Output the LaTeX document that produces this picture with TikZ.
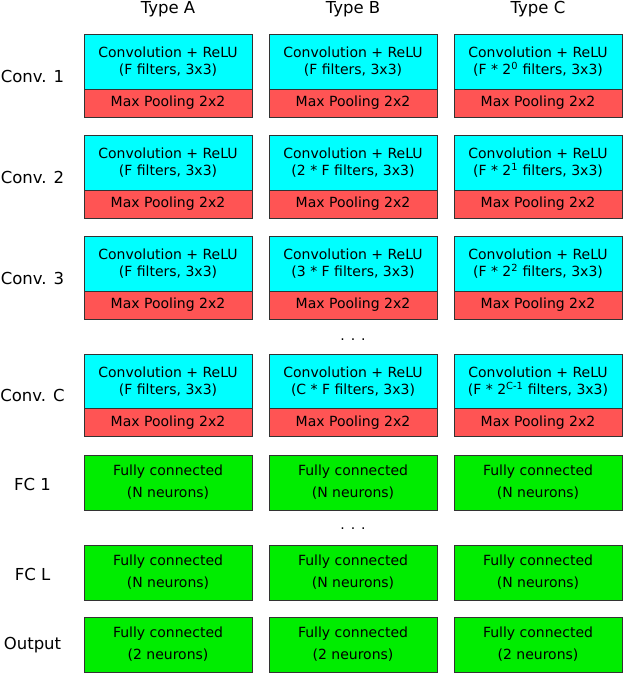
\documentclass[tikz,border=0pt]{standalone}
\usepackage{fontspec}
\setmainfont{DejaVu Sans}
\begin{document}
\begin{tikzpicture}[x=1pt,y=-1pt,
  boxbase/.style={draw=black!80,line width=0.9pt,minimum width=168pt,inner sep=0pt,outer sep=0pt,align=center,font=\fontsize{14}{17.3}\selectfont},
  convbox/.style={boxbase,fill=cyan,minimum height=55pt},
  poolbox/.style={boxbase,fill=red!67!white,minimum height=28pt},
  fcbox/.style={boxbase,fill=green!93!black,minimum height=55pt,font=\fontsize{14}{22}\selectfont},
  collabel/.style={font=\fontsize{16.5}{19}\selectfont},
  rowlabel/.style={font=\fontsize{16.5}{19}\selectfont},
  dotslabel/.style={font=\fontsize{14}{16}\selectfont}]
\useasboundingbox (0,0) rectangle (623,673);
\definecolor{cyan}{HTML}{00FFFF}
\definecolor{red}{HTML}{FF0000}
% column headers
\node[collabel] (tA) at (168,9) {Type A};
\node[collabel] (tB) at (353,9) {Type B};
\node[collabel] (tC) at (538,9) {Type C};
% row labels
\node[rowlabel] (r1) at (32.5,76) {Conv. 1};
\node[rowlabel] (r2) at (32.5,177) {Conv. 2};
\node[rowlabel] (r3) at (32.5,278) {Conv. 3};
\node[rowlabel] (rC) at (32.5,395.5) {Conv. C};
\node[rowlabel] (rF1) at (32.5,484.5) {FC 1};
\node[rowlabel] (rFL) at (32.5,574.5) {FC L};
\node[rowlabel] (rO) at (32.5,645.5) {Output};
% Conv 1
\node[convbox] (a1) at (168,61.5) {Convolution + ReLU\\(F filters, 3x3)};
\node[poolbox] (pa1) at (168,103) {Max Pooling 2x2};
\node[convbox] (b1) at (353,61.5) {Convolution + ReLU\\(F filters, 3x3)};
\node[poolbox] (pb1) at (353,103) {Max Pooling 2x2};
\node[convbox] (c1) at (538,61.5) {Convolution + ReLU\\(F * 2\textsuperscript{0} filters, 3x3)};
\node[poolbox] (pc1) at (538,103) {Max Pooling 2x2};
% Conv 2
\node[convbox] (a2) at (168,162.5) {Convolution + ReLU\\(F filters, 3x3)};
\node[poolbox] (pa2) at (168,204) {Max Pooling 2x2};
\node[convbox] (b2) at (353,162.5) {Convolution + ReLU\\(2 * F filters, 3x3)};
\node[poolbox] (pb2) at (353,204) {Max Pooling 2x2};
\node[convbox] (c2) at (538,162.5) {Convolution + ReLU\\(F * 2\textsuperscript{1} filters, 3x3)};
\node[poolbox] (pc2) at (538,204) {Max Pooling 2x2};
% Conv 3
\node[convbox] (a3) at (168,263.5) {Convolution + ReLU\\(F filters, 3x3)};
\node[poolbox] (pa3) at (168,305) {Max Pooling 2x2};
\node[convbox] (b3) at (353,263.5) {Convolution + ReLU\\(3 * F filters, 3x3)};
\node[poolbox] (pb3) at (353,305) {Max Pooling 2x2};
\node[convbox] (c3) at (538,263.5) {Convolution + ReLU\\(F * 2\textsuperscript{2} filters, 3x3)};
\node[poolbox] (pc3) at (538,305) {Max Pooling 2x2};
% dots
\node[dotslabel] (d1) at (353,340) {. . .};
% Conv C
\node[convbox] (aC) at (168,381.5) {Convolution + ReLU\\(F filters, 3x3)};
\node[poolbox] (paC) at (168,422.5) {Max Pooling 2x2};
\node[convbox] (bC) at (353,381.5) {Convolution + ReLU\\(C * F filters, 3x3)};
\node[poolbox] (pbC) at (353,422.5) {Max Pooling 2x2};
\node[convbox] (cC) at (538,381.5) {Convolution + ReLU\\(F * 2\textsuperscript{C-1} filters, 3x3)};
\node[poolbox] (pcC) at (538,422.5) {Max Pooling 2x2};
% FC 1
\node[fcbox] (f1a) at (168,482.5) {Fully connected\\(N neurons)};
\node[fcbox] (f1b) at (353,482.5) {Fully connected\\(N neurons)};
\node[fcbox] (f1c) at (538,482.5) {Fully connected\\(N neurons)};
\node[dotslabel] (d2) at (353,529) {. . .};
% FC L
\node[fcbox] (fLa) at (168,572.5) {Fully connected\\(N neurons)};
\node[fcbox] (fLb) at (353,572.5) {Fully connected\\(N neurons)};
\node[fcbox] (fLc) at (538,572.5) {Fully connected\\(N neurons)};
% Output
\node[fcbox] (oa) at (168,644.5) {Fully connected\\(2 neurons)};
\node[fcbox] (ob) at (353,644.5) {Fully connected\\(2 neurons)};
\node[fcbox] (oc) at (538,644.5) {Fully connected\\(2 neurons)};
\end{tikzpicture}
\end{document}
